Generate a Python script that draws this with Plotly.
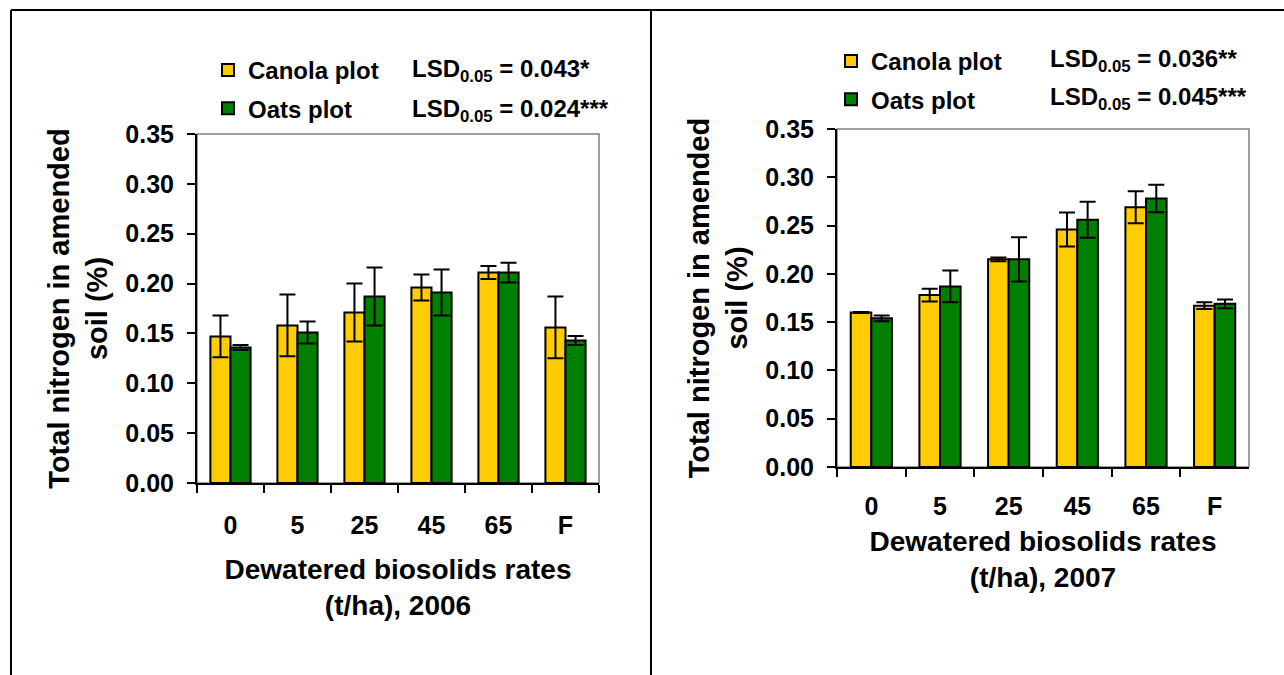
import plotly.graph_objects as go

# Biosolids application rates (t/ha); F = fertilizer control
categories = ["0", "5", "25", "45", "65", "F"]

# Total nitrogen in amended soil (%), 2006 season
canola_2006 = [0.147, 0.158, 0.171, 0.196, 0.211, 0.156]
canola_2006_err = [0.021, 0.031, 0.029, 0.013, 0.0065, 0.031]
oats_2006 = [0.136, 0.151, 0.187, 0.191, 0.211, 0.143]
oats_2006_err = [0.0025, 0.011, 0.029, 0.023, 0.010, 0.0045]

# Total nitrogen in amended soil (%), 2007 season
canola_2007 = [0.160, 0.178, 0.215, 0.246, 0.269, 0.167]
canola_2007_err = [0.0005, 0.0066, 0.002, 0.0176, 0.0166, 0.0035]
oats_2007 = [0.154, 0.187, 0.215, 0.256, 0.278, 0.169]
oats_2007_err = [0.003, 0.0164, 0.0228, 0.0186, 0.0143, 0.0045]

lsd_2006 = ["LSD<sub>0.05</sub> = 0.043*", "LSD<sub>0.05</sub> = 0.024***"]
lsd_2007 = ["LSD<sub>0.05</sub> = 0.036**", "LSD<sub>0.05</sub> = 0.045***"]

W, H = 1284, 675
FONT = "Liberation Sans, Arial, sans-serif"
YELLOW = "#FFCC00"
GREEN = "#008000"


def px_x(p):
    return p / W


def px_y(p):
    return 1 - p / H


def bar(name, y, err, color, xa, ya, legend, group):
    return go.Bar(
        name=name, x=categories, y=y, xaxis=xa, yaxis=ya,
        marker=dict(color=color, line=dict(color="black", width=2)),
        error_y=dict(type="data", array=err, visible=True,
                     color="black", thickness=2, width=8),
        legend=legend, legendgroup=group, showlegend=True,
    )


fig = go.Figure([
    bar("Canola plot", canola_2006, canola_2006_err, YELLOW, "x", "y", "legend", "c6"),
    bar("Oats plot", oats_2006, oats_2006_err, GREEN, "x", "y", "legend", "o6"),
    bar("Canola plot", canola_2007, canola_2007_err, YELLOW, "x2", "y2", "legend2", "c7"),
    bar("Oats plot", oats_2007, oats_2007_err, GREEN, "x2", "y2", "legend2", "o7"),
])

tick_font = dict(family=FONT, size=25, color="black", weight="bold")
title_font = dict(family=FONT, size=28, color="black", weight="bold")
ytitle_font = dict(family=FONT, size=29, color="black", weight="bold")


def xaxis(domain, anchor, year, label_gap, title_gap):
    return dict(
        domain=domain, anchor=anchor, type="category", automargin=False,
        tickson="boundaries", ticks="outside", ticklen=8, tickwidth=1.5,
        tickcolor="black", showline=True, linecolor="black", linewidth=2,
        showgrid=False, tickfont=tick_font, ticklabelstandoff=label_gap,
        title=dict(text=f"Dewatered biosolids rates<br>(t/ha), {year}",
                   font=title_font, standoff=title_gap),
    )


def yaxis(domain, anchor):
    return dict(
        domain=domain, anchor=anchor, range=[0, 0.35], dtick=0.05,
        automargin=False,
        tickformat=".2f", ticks="outside", ticklen=8, tickwidth=1.5,
        tickcolor="black", showline=True, linecolor="black", linewidth=2,
        showgrid=False, zeroline=False, tickfont=tick_font,
        ticklabelstandoff=8,
        title=dict(text="Total nitrogen in amended<br>soil (%)",
                   font=ytitle_font, standoff=9),
    )


legend_common = dict(
    font=dict(family=FONT, size=24, color="black", weight="bold"),
    bgcolor="rgba(0,0,0,0)", borderwidth=0, traceorder="grouped",
    tracegroupgap=4, yanchor="top", xanchor="left",
)

fig.update_layout(
    template="none",
    width=W, height=H,
    margin=dict(l=0, r=0, t=0, b=0, autoexpand=False),
    paper_bgcolor="white", plot_bgcolor="white",
    barmode="group", bargap=0.4, bargroupgap=0,
    font=dict(family=FONT, color="black"),
    xaxis=xaxis([px_x(197), px_x(599)], "y", 2006, 19, 21),
    yaxis=yaxis([px_y(483), px_y(134)], "x"),
    xaxis2=xaxis([px_x(837), px_x(1249)], "y2", 2007, 16, 12),
    yaxis2=yaxis([px_y(467), px_y(129)], "x2"),
    legend=dict(x=px_x(208), y=px_y(48), **legend_common),
    legend2=dict(x=px_x(831), y=px_y(39), **legend_common),
)

# Grey plot-area frame (top and right edges show above the black axes)
for xa, ya in (("x", "y"), ("x2", "y2")):
    fig.add_shape(type="rect", xref=f"{xa} domain", yref=f"{ya} domain",
                  x0=0, x1=1, y0=0, y1=1, layer="below",
                  line=dict(color="#808080", width=1.5))

# Table cell borders around the two panels
border = dict(color="black", width=2)
fig.add_shape(type="line", xref="paper", yref="paper",
              x0=px_x(11), x1=1, y0=px_y(10), y1=px_y(10), line=border)
fig.add_shape(type="line", xref="paper", yref="paper",
              x0=px_x(11), x1=px_x(11), y0=px_y(10), y1=0, line=border)
fig.add_shape(type="line", xref="paper", yref="paper",
              x0=px_x(651), x1=px_x(651), y0=px_y(10), y1=0, line=border)

# LSD statistics next to each legend
lsd_font = dict(family=FONT, size=24, color="black", weight="bold")
for text, x, y in ((lsd_2006[0], 410, 70), (lsd_2006[1], 410, 110),
                   (lsd_2007[0], 1048, 61), (lsd_2007[1], 1048, 98)):
    fig.add_annotation(text=text, xref="paper", yref="paper",
                       x=px_x(x), y=px_y(y), xanchor="left", yanchor="middle",
                       showarrow=False, font=lsd_font)

fig.write_html("out.html")
